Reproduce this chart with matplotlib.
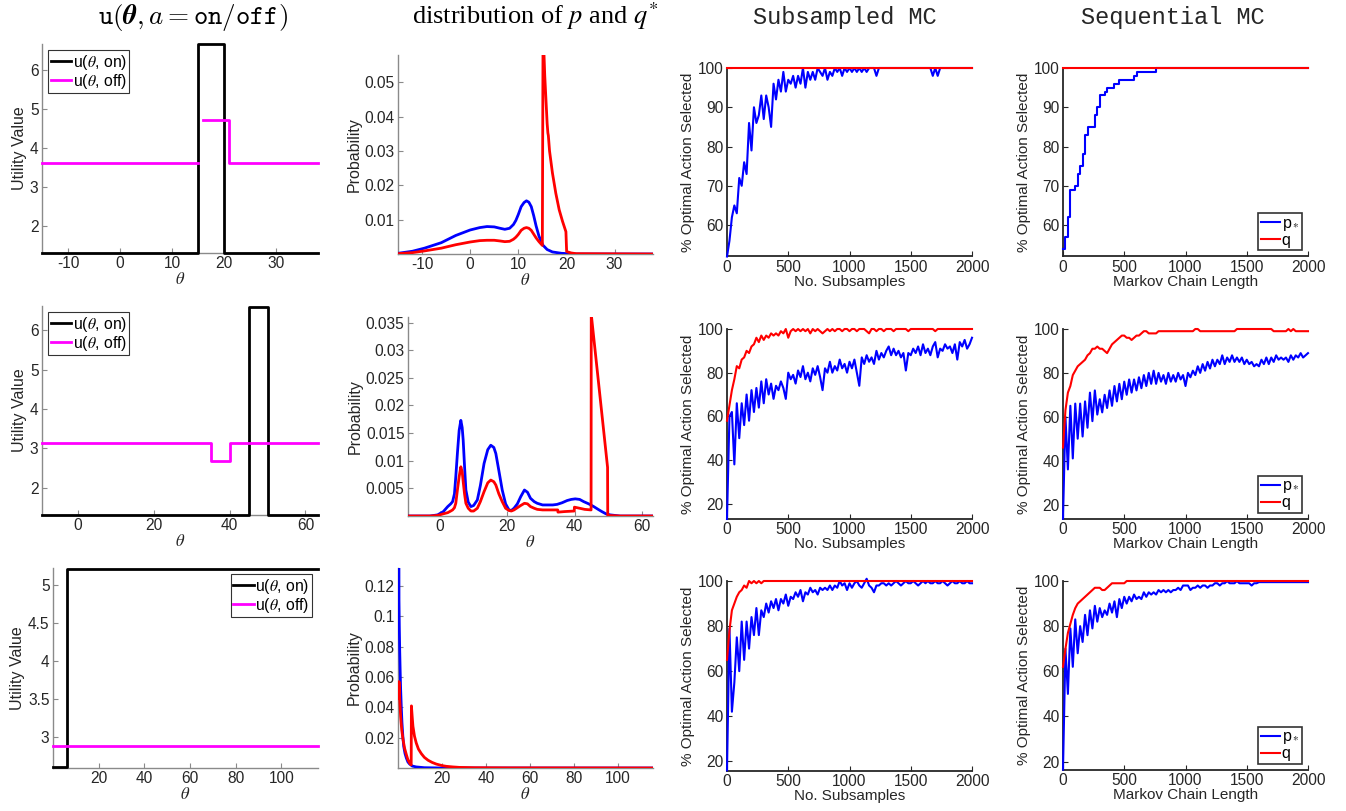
import numpy as np
import matplotlib
matplotlib.use("Agg")
import matplotlib.pyplot as plt
from matplotlib.ticker import FuncFormatter

plt.rcParams['font.family'] = ['Liberation Sans', 'DejaVu Sans']
plt.rcParams['mathtext.fontset'] = 'stix'
plt.rcParams['axes.unicode_minus'] = False

nan = float('nan')

# ---------------- column 1 : utility functions ----------------
u1_on_theta = [-15, 15, 15, 20, 20, 38]
u1_on = [1.3, 1.3, 6.65, 6.65, 1.3, 1.3]
u1_off_theta = [-15, 15, nan, 15.85, 21, 21, 38]
u1_off = [3.6, 3.6, nan, 4.7, 4.7, 3.6, 3.6]

u2_on_theta = [-9.5, 45, 45, 50, 50, 63.3]
u2_on = [1.3, 1.3, 6.6, 6.6, 1.3, 1.3]
u2_off_theta = [-9.5, 35, 35, 40, 40, 63.3]
u2_off = [3.14, 3.14, 2.68, 2.68, 3.14, 3.14]

u3_on_theta = [0, 6.3, 6.3, 116]
u3_on = [2.6, 2.6, 5.21, 5.21]
u3_off_theta = [0, 116]
u3_off = [2.875, 2.875]

# ---------------- column 2 : distributions p and q* ----------------
p1_theta = [-15, -12, -9.5, -6, -3, 0, 2, 3.5, 5, 6.2, 7.2, 8.2, 9, 9.5, 10, 10.6, 11.2, 11.7, 12.2, 12.7,
            13.2, 13.7, 14.3, 15.1, 16, 17.1, 19, 22, 38]
p1_vals = [0.0002, 0.0008, 0.0017, 0.0033, 0.0054, 0.0070, 0.0077, 0.0080, 0.0079, 0.0075, 0.0072, 0.0075,
           0.0086, 0.0098, 0.0115, 0.0138, 0.0150, 0.0155, 0.0151, 0.0138, 0.0112, 0.0082, 0.0052, 0.0026,
           0.0013, 0.0006, 0.0002, 0.0, 0.0]
q1_theta = [-15, -12, -9.5, -6, -3, 0, 2, 3.5, 5, 6.2, 7.2, 8.2, 9, 9.5, 10, 10.6, 11.2, 11.7, 12.2, 12.7,
            13.2, 13.7, 14.3, 15.0, 15.15, 15.5, 16.0, 16.15, 16.25, 16.5, 17.1, 17.8, 18.5, 19.2, 19.9,
            20.05, 21, 22, 38]
q1_vals = [0.0001, 0.0004, 0.0009, 0.0017, 0.0027, 0.0035, 0.0039, 0.0040, 0.0040, 0.0038, 0.0036, 0.0037,
           0.0043, 0.0049, 0.0057, 0.0069, 0.0075, 0.0077, 0.0075, 0.0069, 0.0058, 0.0047, 0.0036, 0.0025,
           0.0660, 0.0520, 0.0380, 0.0353, 0.0345, 0.0300, 0.0236, 0.0177, 0.0129, 0.0095, 0.0065,
           0.0007, 0.0003, 0.0001, 0.0]

p2_theta = [-9.5, -3, -0.7, 1, 2.3, 3.2, 3.75, 4.3, 4.7, 5.2, 5.7, 6.2, 6.6, 6.9, 7.3, 7.7, 8.4, 9.2, 10,
            11.1, 12, 13.1, 14.2, 15.1, 16, 16.6, 17.5, 18.5, 19.5, 20.5, 21.2, 22, 23, 24, 25.1, 26, 26.9,
            28, 28.9, 30.5, 31.9, 33.5, 34.8, 36.3, 37.8, 39, 40.2, 41.5, 42.7, 44.2, 45.7, 47, 48.1, 49.3,
            50.6, 53.5, 63.3]
p2_vals = [0, 0, 0.0002, 0.0008, 0.0017, 0.0022, 0.0026, 0.0040, 0.0071, 0.0115, 0.0155, 0.0173, 0.0160,
           0.0137, 0.0090, 0.0047, 0.0025, 0.0017, 0.0019, 0.0029, 0.0055, 0.0095, 0.0120, 0.0128, 0.0124,
           0.0113, 0.0082, 0.0047, 0.0022, 0.0011, 0.0010, 0.0014, 0.0022, 0.0035, 0.0047, 0.0043, 0.0032,
           0.0026, 0.0023, 0.0020, 0.0020, 0.0020, 0.0021, 0.0024, 0.0028, 0.0030, 0.0031, 0.0030, 0.0026,
           0.0022, 0.0017, 0.0012, 0.0008, 0.0004, 0.0002, 0.0, 0.0]
q2_theta = [-9.5, -3, -0.7, 1, 2.3, 3.2, 3.75, 4.3, 4.7, 5.2, 5.7, 6.2, 6.6, 6.9, 7.3, 7.7, 8.4, 9.2, 10,
            11.1, 12, 13.1, 14.2, 15.1, 16, 16.6, 17.5, 18.5, 19.5, 20.5, 21.2, 22, 23, 24, 25.1, 26, 26.9,
            28, 28.9, 30.5, 31.9, 33.5, 35.0, 35.05, 37, 39.9, 39.95, 41.5, 43, 44.9, 44.95, 49.8, 49.85,
            53.5, 63.3]
q2_vals = [0, 0, 0.0001, 0.0004, 0.0006, 0.0009, 0.0011, 0.0015, 0.0023, 0.0048, 0.0071, 0.0089, 0.0080,
           0.0062, 0.0040, 0.0023, 0.0014, 0.0009, 0.0009, 0.0014, 0.0026, 0.0044, 0.0060, 0.0065, 0.0062,
           0.0056, 0.0040, 0.0026, 0.0014, 0.0010, 0.0009, 0.0011, 0.0015, 0.0019, 0.0023, 0.0022, 0.0017,
           0.0014, 0.0012, 0.0011, 0.0011, 0.0011, 0.0011, 0.0007, 0.0008, 0.0009, 0.0016, 0.0014, 0.0012,
           0.0011, 0.0365, 0.0088, 0.0001, 0.0, 0.0]

p3_theta = [0.35, 0.45, 0.6, 0.77, 1.0, 1.2, 1.5, 1.8, 2.2, 2.6, 3.2, 3.8, 4.5, 5.3, 6.5, 8.3, 12, 20, 116]
p3_vals = [0.2, 0.111, 0.093, 0.078, 0.063, 0.052, 0.040, 0.030, 0.021, 0.0143, 0.0095, 0.0066, 0.0040,
           0.0026, 0.0013, 0.0007, 0.0002, 0.0, 0.0]
q3_theta = [0.42, 0.47, 0.8, 1.2, 1.7, 2.3, 3.0, 3.8, 4.5, 5.3, 5.9, 6.0, 6.1, 6.5, 6.8, 7.5, 8.3, 9.3, 10.6,
            12, 13.7, 15.5, 17.4, 20, 22, 25, 28, 35, 50, 116]
q3_vals = [0.046, 0.057, 0.045, 0.034, 0.025, 0.0187, 0.013, 0.0088, 0.0055, 0.0033, 0.0022, 0.0021, 0.041,
           0.033, 0.0275, 0.021, 0.0165, 0.0125, 0.0095, 0.0070, 0.0051, 0.0037, 0.0026, 0.0016, 0.0011,
           0.0007, 0.0004, 0.0002, 0.0001, 0.0]

# ---------------- columns 3 & 4 : % optimal action (values every 20 samples) ----------------
STEP = 20
sub1_p = [52, 56, 62, 65, 63, 72, 70, 76, 73, 86, 79, 90, 86, 88, 93, 87, 93, 90, 85, 96,
          92, 97, 94, 99, 94, 97, 96, 98, 95, 98, 96, 100, 95, 99, 97, 99, 97, 100, 99, 98,
          100, 97, 99, 98, 100, 99, 100, 98, 100, 99, 100, 99, 100, 99, 100, 99, 100, 99, 100, 100,
          100, 98, 100, 100, 100, 100, 100, 100, 100, 100, 100, 100, 100, 100, 100, 100, 100, 100, 100, 100,
          100, 100, 100, 100, 98, 100, 98, 100, 100, 100, 100, 100, 100, 100, 100, 100, 100, 100, 100, 100,
          100]
sub1_q_x = [0, 2000]
sub1_q = [100, 100]
seq1_p = [54, 57, 62, 69, 69, 70, 73, 75, 78, 83, 85, 85, 85, 88, 90, 93, 93, 94, 95, 95,
          95, 96, 96, 97, 97, 97, 97, 97, 97, 98, 99, 99, 99, 99, 99, 99, 99, 99, 100, 100,
          100, 100, 100, 100, 100, 100, 100, 100, 100, 100, 100, 100, 100, 100, 100, 100, 100, 100, 100, 100,
          100, 100, 100, 100, 100, 100, 100, 100, 100, 100, 100, 100, 100, 100, 100, 100, 100, 100, 100, 100,
          100, 100, 100, 100, 100, 100, 100, 100, 100, 100, 100, 100, 100, 100, 100, 100, 100, 100, 100, 100,
          100]
seq1_q_x = [0, 2000]
seq1_q = [100, 100]

sub2_p = [13, 60, 62, 38, 66, 50, 66, 56, 70, 58, 72, 62, 73, 64, 76, 66, 77, 70, 75, 68,
          74, 72, 76, 73, 68, 80, 77, 79, 75, 81, 78, 83, 77, 80, 76, 82, 79, 83, 78, 72,
          82, 80, 85, 80, 83, 81, 86, 82, 84, 80, 85, 82, 86, 80, 74, 87, 84, 88, 85, 87,
          84, 90, 86, 89, 87, 90, 92, 88, 91, 88, 90, 87, 89, 81, 89, 88, 91, 89, 92, 88,
          93, 89, 91, 88, 92, 94, 87, 91, 90, 93, 91, 92, 89, 93, 86, 94, 92, 95, 91, 93,
          96]
sub2_q = [58, 65, 72, 77, 83, 82, 86, 87, 90, 89, 92, 93, 96, 94, 97, 95, 97, 96, 98, 97,
          98, 97, 99, 98, 100, 96, 99, 100, 99, 100, 99, 100, 99, 100, 98, 100, 99, 100, 99, 98,
          99, 100, 99, 100, 99, 100, 100, 99, 100, 100, 99, 100, 100, 99, 100, 100, 100, 99, 98, 100,
          100, 99, 100, 100, 99, 100, 100, 100, 99, 100, 100, 100, 100, 100, 99, 100, 100, 100, 100, 100,
          100, 100, 100, 100, 100, 99, 100, 100, 100, 100, 100, 100, 100, 100, 100, 100, 100, 100, 100, 100,
          100]
seq2_p = [13.5, 60, 36, 65, 41, 66, 50, 66, 51, 67, 55, 71, 58, 72, 61, 68, 62, 70, 64, 72,
          65, 74, 67, 75, 68, 76, 70, 77, 71, 77, 72, 78, 73, 79, 74, 80, 75, 81, 75, 80,
          76, 79, 75, 80, 76, 79, 76, 80, 77, 79, 74, 80, 78, 81, 79, 83, 80, 84, 81, 85,
          82, 86, 83, 86, 84, 88, 84, 87, 85, 88, 85, 87, 85, 87, 84, 86, 84, 85, 83, 84,
          83, 86, 84, 87, 84, 87, 85, 88, 86, 87, 86, 87, 85, 88, 86, 88, 87, 89, 87, 88,
          89]
seq2_q = [46, 63, 71, 74, 79, 81, 83, 84, 85, 86, 88, 89, 91, 91, 92, 91, 91, 90, 89, 91,
          93, 94, 95, 96, 97, 97, 96, 96, 95, 96, 97, 97, 98, 99, 99, 98, 98, 98, 98, 99,
          99, 99, 99, 99, 99, 99, 99, 99, 99, 99, 99, 99, 99, 99, 100, 100, 99, 99, 99, 99,
          99, 99, 99, 99, 99, 99, 99, 99, 99, 99, 99, 100, 100, 100, 100, 100, 100, 100, 100, 100,
          100, 100, 100, 100, 100, 100, 99, 99, 99, 99, 99, 99, 100, 99, 100, 99, 99, 99, 99, 99,
          99]

sub3_p = [16, 79, 42, 55, 75, 60, 82, 65, 82, 70, 84, 76, 88, 76, 87, 84, 90, 86, 91, 88,
          92, 87, 92, 90, 94, 89, 93, 92, 95, 93, 96, 91, 95, 94, 97, 95, 96, 94, 97, 96,
          97, 96, 98, 96, 98, 97, 100, 98, 99, 96, 99, 97, 99, 100, 98, 97, 99, 101, 98, 97,
          95, 98, 98, 99, 99, 98, 99, 98, 99, 100, 99, 98, 99, 100, 99, 99, 100, 99, 98, 99,
          100, 99, 100, 99, 99, 100, 99, 99, 100, 99, 98, 99, 100, 99, 99, 100, 99, 99, 100, 99,
          99]
sub3_q = [65, 78, 87, 90, 93, 95, 96, 98, 97, 100, 99, 100, 99, 100, 99, 100, 100, 100, 100, 100,
          100, 100, 100, 100, 100, 100, 100, 100, 100, 100, 100, 100, 100, 100, 100, 100, 100, 100, 100, 100,
          100, 100, 100, 100, 100, 100, 100, 100, 100, 100, 100, 100, 100, 100, 100, 100, 100, 100, 100, 100,
          100, 100, 100, 100, 100, 100, 100, 100, 100, 100, 100, 100, 100, 100, 100, 100, 100, 100, 100, 100,
          100, 100, 100, 100, 100, 100, 100, 100, 100, 100, 100, 100, 100, 100, 100, 100, 100, 100, 100, 100,
          100]
seq3_p = [16.5, 70, 50, 79, 62, 83, 68, 80, 73, 85, 76, 87, 79, 89, 82, 88, 84, 87, 85, 90,
          86, 91, 84, 92, 88, 93, 90, 93, 91, 94, 92, 93, 92, 95, 93, 95, 94, 95, 94, 96,
          95, 96, 95, 96, 95, 96, 96, 97, 96, 98, 98, 98, 96, 97, 97, 98, 97, 98, 98, 97,
          98, 98, 99, 99, 98, 99, 99, 100, 99, 99, 99, 100, 99, 99, 99, 99, 99, 98, 99, 99,
          99.5, 99.5, 99.5, 99.5, 99.5, 99.5, 99.5, 99.5, 99.5, 99.5, 99.5, 99.5, 99.5, 99.5, 99.5, 99.5,
          99.5, 99.5, 99.5, 99.5, 99.5]
seq3_q = [62, 70, 77, 81, 85, 88, 90, 91, 92, 93, 94, 95, 96, 97, 97, 97, 96, 96, 97, 98,
          99, 99, 99, 99, 99, 99, 100, 100, 100, 100, 100, 100, 100, 100, 100, 100, 100, 100, 100, 100,
          100, 100, 100, 100, 100, 100, 100, 100, 100, 100, 100, 100, 100, 100, 100, 100, 100, 100, 100, 100,
          100, 100, 100, 100, 100, 100, 100, 100, 100, 100, 100, 100, 100, 100, 100, 100, 100, 100, 100, 100,
          100, 100, 100, 100, 100, 100, 100, 100, 100, 100, 100, 100, 100, 100, 100, 100, 100, 100, 100, 100,
          100]

# ---------------- figure ----------------
W, H = 1346, 811
fig = plt.figure(figsize=(W / 100, H / 100), dpi=100)
BLUE, RED, MAG, TXT, GRAY = '#0000ff', '#ff0000', '#ff00ff', '#262626', '#8a8a8a'
fmt = FuncFormatter(lambda v, p: f'{v:g}')


def add_ax(l, t, r, b):
    return fig.add_axes([l / W, 1 - b / H, (r - l) / W, (b - t) / H])


def style(ax, dark):
    for s in ['top', 'right']:
        ax.spines[s].set_visible(False)
    c = TXT if dark else GRAY
    for s in ['left', 'bottom']:
        ax.spines[s].set_color(c)
        ax.spines[s].set_linewidth(1.3 if dark else 1.0)
    ax.tick_params(direction='in', length=3.5, width=0.8, color=c, labelcolor=TXT,
                   labelsize=11.2, pad=2.5)
    ax.xaxis.set_major_formatter(fmt)
    ax.yaxis.set_major_formatter(fmt)


def xgrid(vals):
    return np.arange(len(vals)) * STEP


# layout (pixel boxes: left, top, right, bottom)
c1 = [(42, 44, 318, 253), (42, 306, 318, 515), (53, 568, 318, 768)]
c2 = [(398, 55, 653, 254), (408, 317, 653, 516), (398, 568, 653, 768)]
c3 = [(727, 68, 972, 256.5), (727, 329, 972, 519), (727, 581, 972, 771)]
c4 = [(1063, 68, 1308, 256.5), (1063, 329, 1308, 519), (1063, 581, 1308, 770)]

u_sets = [(u1_on_theta, u1_on, u1_off_theta, u1_off, (-15, 38), (1.3, 6.66), [-10, 0, 10, 20, 30], [2, 3, 4, 5, 6], 'upper left'),
          (u2_on_theta, u2_on, u2_off_theta, u2_off, (-9.5, 63.3), (1.3, 6.62), [0, 20, 40, 60], [2, 3, 4, 5, 6], 'upper left'),
          (u3_on_theta, u3_on, u3_off_theta, u3_off, (0, 116), (2.59, 5.22), [20, 40, 60, 80, 100], [3, 3.5, 4, 4.5, 5], 'upper right')]
for box, (xo, yo, xf, yf, xl, yl, xt, yt, loc) in zip(c1, u_sets):
    ax = add_ax(*box)
    style(ax, False)
    l1, = ax.plot(xo, yo, color='black', lw=2.0, clip_on=False, zorder=3)
    l2, = ax.plot(xf, yf, color=MAG, lw=2.0, clip_on=False, zorder=3)
    ax.set_xlim(*xl); ax.set_ylim(*yl)
    ax.set_xticks(xt); ax.set_yticks(yt)
    ax.set_ylabel('Utility Value', fontsize=11.5, color=TXT, labelpad=2)
    ax.set_xlabel(r'$\theta$', fontsize=12, color=TXT, labelpad=0)
    leg = ax.legend([l1, l2], [r'u($\theta$, on)', r'u($\theta$, off)'], loc=loc, fontsize=11.3,
                    frameon=True, fancybox=False, edgecolor='black', handlelength=1.3,
                    handletextpad=0.1, borderpad=0.15, labelspacing=0.0, borderaxespad=0.4)
    leg.get_frame().set_linewidth(0.8)

d_sets = [(p1_theta, p1_vals, q1_theta, q1_vals, (-15, 38), (0, 0.058), [-10, 0, 10, 20, 30], [0.01, 0.02, 0.03, 0.04, 0.05]),
          (p2_theta, p2_vals, q2_theta, q2_vals, (-9.5, 63.3), (0, 0.036), [0, 20, 40, 60], [0.005, 0.01, 0.015, 0.02, 0.025, 0.03, 0.035]),
          (p3_theta, p3_vals, q3_theta, q3_vals, (0, 116), (0, 0.132), [20, 40, 60, 80, 100], [0.02, 0.04, 0.06, 0.08, 0.1, 0.12])]
for box, (xp, yp, xq, yq, xl, yl, xt, yt) in zip(c2, d_sets):
    ax = add_ax(*box)
    style(ax, False)
    ax.plot(xp, yp, color=BLUE, lw=2.0, zorder=3)
    ax.plot(xq, yq, color=RED, lw=2.0, zorder=3)
    ax.set_xlim(*xl); ax.set_ylim(*yl)
    ax.set_xticks(xt); ax.set_yticks(yt)
    ax.set_ylabel('Probability', fontsize=11.5, color=TXT, labelpad=2)
    ax.set_xlabel(r'$\theta$', fontsize=12, color=TXT, labelpad=0)

sub_sets = [(xgrid(sub1_p), sub1_p, sub1_q_x, sub1_q, 52, [60, 70, 80, 90, 100]),
            (xgrid(sub2_p), sub2_p, xgrid(sub2_q), sub2_q, 13, [20, 40, 60, 80, 100]),
            (xgrid(sub3_p), sub3_p, xgrid(sub3_q), sub3_q, 15.7, [20, 40, 60, 80, 100])]
seq_sets = [(xgrid(seq1_p), seq1_p, seq1_q_x, seq1_q, 52, [60, 70, 80, 90, 100]),
            (xgrid(seq2_p), seq2_p, xgrid(seq2_q), seq2_q, 13.4, [20, 40, 60, 80, 100]),
            (xgrid(seq3_p), seq3_p, xgrid(seq3_q), seq3_q, 16.3, [20, 40, 60, 80, 100])]

for col, (boxes, sets, xlab) in enumerate([(c3, sub_sets, 'No. Subsamples'),
                                            (c4, seq_sets, 'Markov Chain Length')]):
    for row, (box, (xp, yp, xq, yq, ymin, yt)) in enumerate(zip(boxes, sets)):
        ax = add_ax(*box)
        style(ax, True)
        ds = 'steps-post' if (col == 1 and row == 0) else 'default'
        lp, = ax.plot(xp, yp, color=BLUE, lw=1.5, clip_on=False, drawstyle=ds, zorder=3)
        lq, = ax.plot(xq, yq, color=RED, lw=1.5, clip_on=False, zorder=4)
        ax.set_xlim(0, 2000); ax.set_ylim(ymin, 100)
        ax.set_xticks([0, 500, 1000, 1500, 2000]); ax.set_yticks(yt)
        ax.set_ylabel('% Optimal Action Selected', fontsize=11, color=TXT, labelpad=2)
        ax.set_xlabel(xlab, fontsize=11, color=TXT, labelpad=0)
        if col == 1:
            leg = ax.legend([lp, lq], [r'p$_*$', 'q'], loc='lower right', fontsize=11.5,
                            frameon=True, fancybox=False, edgecolor='black', handlelength=1.2,
                            handletextpad=0.1, borderpad=0.15, labelspacing=0.0, borderaxespad=0.4)
            leg.get_frame().set_linewidth(1.2)
            leg.set_zorder(10)

# ---------------- column titles ----------------
ty = 1 - 24 / H
t1 = fig.text(193 / W, ty, r'$\mathtt{u}(\boldsymbol{\theta}, a = \mathtt{on/off})$', ha='center',
              va='baseline', fontsize=19.5, math_fontfamily='cm', color='black')
fig.text(535 / W, ty, r'distribution of $p$ and $q^{*}$', ha='center', va='baseline', fontsize=19,
         family=['Liberation Serif', 'DejaVu Serif'], math_fontfamily='stix', color='black')
fig.text(845 / W, ty, 'Subsampled MC', ha='center', va='baseline', fontsize=17,
         family=['Liberation Mono', 'DejaVu Sans Mono'], color=TXT)
fig.text(1173 / W, ty, 'Sequential MC', ha='center', va='baseline', fontsize=17,
         family=['Liberation Mono', 'DejaVu Sans Mono'], color=TXT)

try:
    fig.canvas.draw()
except Exception:
    t1.set_text(r'$\mathtt{u}(\mathbf{\theta}, a = \mathtt{on/off})$')

fig.savefig('out.png', dpi=100)
